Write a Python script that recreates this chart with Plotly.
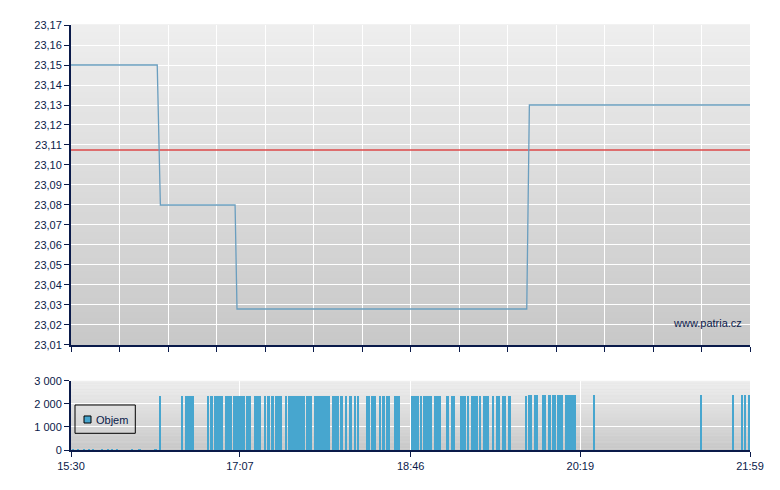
import plotly.graph_objects as go

# ---- data (time axis in minutes after 15:30, on the chart's own time scale) ----
price_t = [0, 49.4, 51.2, 94.0, 95.1, 261.1, 262.6, 389]
price_v = [23.15, 23.15, 23.08, 23.08, 23.028, 23.028, 23.13, 23.13]
ref_price = 23.1075

vol_start = [0.3, 3.4, 6.9, 9.7, 12.0, 17.2, 20.6, 22.9, 25.8, 34.4, 38.4, 47.6,
             50.4, 62.8, 65.1, 77.9, 79.6, 81.9, 88.2, 92.8, 100.3, 104.8, 110.6,
             112.3, 114.6, 116.9, 122.6, 124.3, 134.6, 139.2, 149.5, 154.1, 156.9,
             159.8, 162.1, 163.9, 169.0, 171.9, 176.5, 178.2, 180.5, 185.1, 194.8,
             199.9, 201.7, 208.0, 214.8, 217.7, 222.9, 226.9, 229.2, 233.7, 236.0,
             241.2, 243.5, 246.9, 250.4, 260.1, 261.8, 265.3, 269.8, 273.3, 275.6,
             278.4, 283.0, 299.1, 360.4, 378.7, 383.9, 385.6, 388.4]
vol_end = [1.7, 4.6, 8.0, 10.9, 13.2, 18.3, 21.8, 24.1, 26.9, 35.5, 40.1, 49.3,
           51.6, 64.3, 70.5, 79.2, 81.4, 87.1, 92.2, 99.7, 103.1, 108.9, 111.7,
           114.0, 116.3, 120.9, 123.7, 134.1, 138.1, 148.4, 153.5, 155.8, 158.1,
           160.9, 163.3, 165.0, 171.3, 174.7, 177.6, 179.9, 182.8, 188.5, 199.4,
           201.1, 206.8, 212.0, 216.6, 220.0, 226.3, 228.0, 233.2, 234.9, 239.5,
           242.3, 245.8, 249.2, 252.1, 261.3, 264.1, 267.5, 272.1, 275.0, 277.9,
           281.9, 289.3, 300.2, 361.5, 379.9, 385.0, 386.7, 389.0]
vol_value = [60] * 12 + [2340] * 46 + [2380] * 13

x_tick_pos = [0, 96.8, 194.6, 291.8, 389]
x_tick_text = ["15:30", "17:07", "18:46", "20:19", "21:59"]
y_ticks = [round(23.01 + 0.01 * i, 2) for i in range(17)]
vol_ticks = [0, 1000, 2000, 3000]

# ---- styling ----
NAVY = "#0a1a4a"
FONT = dict(family="Liberation Sans, Arial, sans-serif", size=11, color=NAVY)
X_MAX = 389

fig = go.Figure()

fig.add_trace(go.Scatter(x=[0, X_MAX], y=[ref_price, ref_price], mode="lines",
                         line=dict(color="#dd4848", width=1.6), showlegend=False,
                         hoverinfo="skip", xaxis="x", yaxis="y"))
fig.add_trace(go.Scatter(x=price_t, y=price_v, mode="lines",
                         line=dict(color="#6a9ebf", width=1.3), showlegend=False,
                         xaxis="x", yaxis="y"))

centers = [(s + e) / 2 for s, e in zip(vol_start, vol_end)]
widths = [e - s for s, e in zip(vol_start, vol_end)]
fig.add_trace(go.Bar(x=centers, y=vol_value, width=widths, name="Objem",
                     marker=dict(color="#47a6cf", line=dict(width=0)),
                     showlegend=False, xaxis="x2", yaxis="y2"))

# gradient backgrounds
shapes = []
N = 48
for ax in ["", "2"]:
    for i in range(N):
        f = i / (N - 1)
        c = int(round(200 + (238 - 200) * f))
        shapes.append(dict(type="rect", xref=f"x{ax} domain", yref=f"y{ax} domain",
                           x0=0, x1=1, y0=i / N, y1=(i + 1) / N + 0.002,
                           fillcolor=f"rgb({c},{c},{c})", line=dict(width=0),
                           layer="below"))

# manual legend box
L, W = 71, 679
shapes.append(dict(type="rect", xref="paper", yref="y2 domain",
                   x0=(75 - L) / W, x1=(135.3 - L) / W, y0=0.242, y1=0.652,
                   line=dict(color="black", width=1), fillcolor="rgba(0,0,0,0)",
                   layer="above"))
shapes.append(dict(type="rect", xref="paper", yref="y2 domain",
                   x0=(84 - L) / W, x1=(91 - L) / W, y0=0.391, y1=0.493,
                   line=dict(color="black", width=1), fillcolor="#47a6cf",
                   layer="above"))

annotations = [
    dict(text="Objem", xref="paper", yref="y2 domain", x=(93.5 - L) / W, y=0.44,
         xanchor="left", yanchor="middle", showarrow=False, font=FONT),
    dict(text="www.patria.cz", xref="paper", yref="y domain", x=(744 - L) / W,
         y=0.068, xanchor="right", yanchor="middle", showarrow=False, font=FONT),
]

# the page body adds an 8px offset at left/top, so the figure is 8px smaller
fig.update_layout(
    width=772, height=482, autosize=False,
    margin=dict(l=63, r=30, t=17, b=40, pad=0),
    paper_bgcolor="white", plot_bgcolor="#dcdcdc",
    separators=", ",
    font=FONT,
    showlegend=False,
    bargap=0,
    shapes=shapes,
    annotations=annotations,
    xaxis=dict(domain=[0, 1], anchor="y", range=[0, X_MAX],
               tickvals=[X_MAX * k / 14 for k in range(15)], showticklabels=False,
               ticks="outside", ticklen=5, tickcolor=NAVY, tickwidth=1,
               showgrid=True, gridcolor="white", gridwidth=1.2,
               showline=True, linecolor=NAVY, linewidth=2, zeroline=False,
               fixedrange=True),
    yaxis=dict(domain=[0.2471, 1], anchor="x", range=[23.01, 23.17],
               tickvals=y_ticks, ticktext=[f"{v:.2f}".replace(".", ",") for v in y_ticks],
               ticks="outside", ticklen=5, tickcolor=NAVY, tickwidth=1,
               showgrid=True, gridcolor="white", gridwidth=1.2,
               showline=True, linecolor=NAVY, linewidth=2, zeroline=False),
    xaxis2=dict(domain=[0, 1], anchor="y2", range=[0, X_MAX],
                tickvals=x_tick_pos, ticktext=x_tick_text,
                ticks="outside", ticklen=5, tickcolor=NAVY, tickwidth=1,
                showgrid=True, gridcolor="white", gridwidth=1.2,
                showline=True, linecolor=NAVY, linewidth=2, zeroline=False),
    yaxis2=dict(domain=[0, 0.1624], anchor="x2", range=[0, 3000],
                tickvals=vol_ticks, ticktext=["0", "1 000", "2 000", "3 000"],
                ticks="outside", ticklen=5, tickcolor=NAVY, tickwidth=1,
                showgrid=True, gridcolor="white", gridwidth=1.2,
                showline=True, linecolor=NAVY, linewidth=2, zeroline=False),
)

fig.write_html("out.html")
